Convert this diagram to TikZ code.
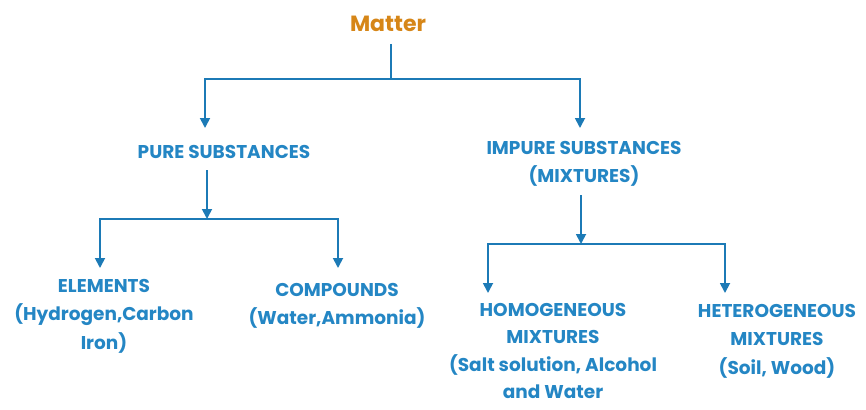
\documentclass[tikz,border=0pt]{standalone}
\usepackage{fontspec}
\setmainfont{Poppins}
\usetikzlibrary{arrows.meta}
\definecolor{lineblue}{RGB}{28,122,182}
\definecolor{textblue}{RGB}{36,134,196}
\definecolor{matterorange}{RGB}{214,134,24}
\tikzset{
  conn/.style={draw=lineblue, line width=1.8pt},
  arr/.style={conn, -{Triangle[length=10pt,width=10pt]}},
  lbl/.style={text=textblue, font=\fontsize{18.5}{28.5}\selectfont\bfseries, align=center, inner sep=0pt},
}
\begin{document}
\begin{tikzpicture}[x=1pt,y=-1pt]
\useasboundingbox (0,0) rectangle (866,409);
\node[lbl, text=matterorange, font=\fontsize{22}{24}\selectfont\bfseries] (matter) at (388,24) {Matter};
\node[lbl] (pure) at (224,152) {PURE SUBSTANCES};
\node[lbl] (impure) at (584,164) {IMPURE SUBSTANCES\\(MIXTURES)};
\node[lbl] (elem) at (104,316) {ELEMENTS\\(Hydrogen,Carbon\\Iron)};
\node[lbl] (comp) at (337,306) {COMPOUNDS\\(Water,Ammonia)};
\node[lbl, font=\fontsize{18.5}{27.5}\selectfont\bfseries] (homo) at (553,351) {HOMOGENEOUS\\MIXTURES\\(Salt solution, Alcohol\\and Water};
\node[lbl] (hetero) at (777,341) {HETEROGENEOUS\\MIXTURES\\(Soil, Wood)};
% junctions and arrow ends
\coordinate (m0) at (391,44);
\coordinate (j1) at (391,79);
\coordinate (p1) at (205,128);
\coordinate (i1) at (580,128);
\coordinate (p0) at (207,170);
\coordinate (j2) at (207,219);
\coordinate (e1) at (100,268);
\coordinate (c1) at (338,268);
\coordinate (q0) at (581,195);
\coordinate (j3) at (581,244);
\coordinate (h1) at (488,293);
\coordinate (t1) at (725,293);
\draw[conn] (m0) -- (j1);
\draw[arr] (j1) -| (p1);
\draw[arr] (j1) -| (i1);
\draw[arr] (p0) -- (j2);
\draw[arr] (j2) -| (e1);
\draw[arr] (j2) -| (c1);
\draw[arr] (q0) -- (j3);
\draw[arr] (j3) -| (h1);
\draw[arr] (j3) -| (t1);
\end{tikzpicture}
\end{document}
